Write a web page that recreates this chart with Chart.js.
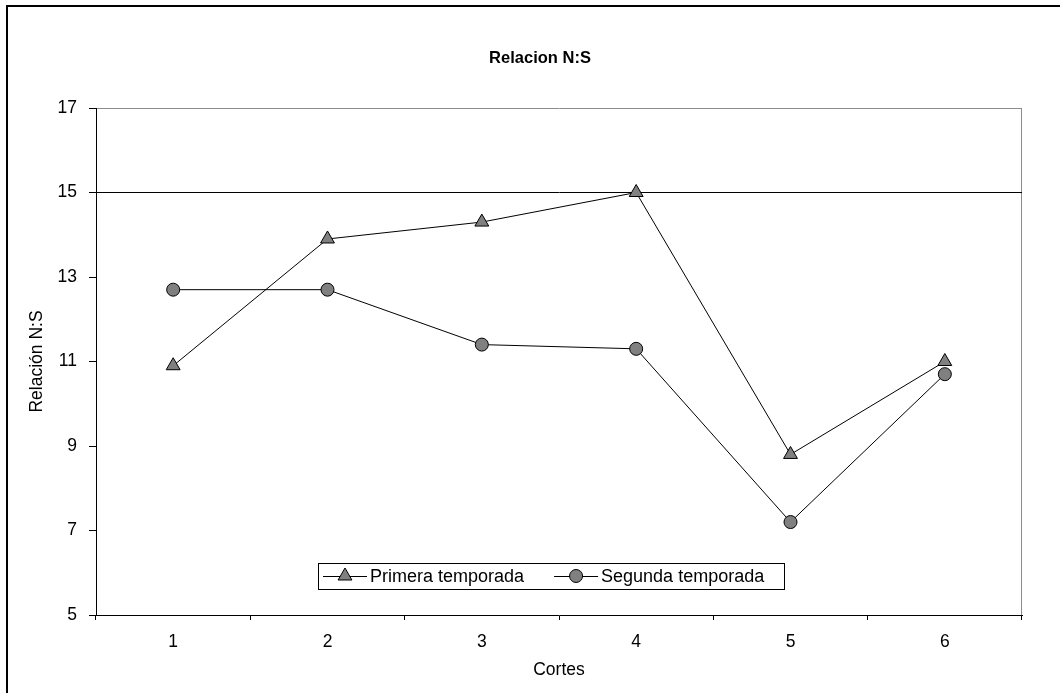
<!DOCTYPE html>
<html>
<head>
<meta charset="utf-8">
<title>Relacion N:S</title>
<script src="https://cdn.jsdelivr.net/npm/chart.js@4/dist/chart.umd.min.js"></script>
<style>
  html, body { margin: 0; padding: 0; background: #fff; overflow: hidden; }
  #wrap { position: relative; width: 1060px; height: 693px; overflow: hidden; }
  #frame { position: absolute; left: 6px; top: 5px; width: 1100px; height: 800px; border: 2px solid #000; }
  #c { position: absolute; left: 0; top: 0; }
</style>
</head>
<body>
<div id="wrap">
  <div id="frame"></div>
  <canvas id="c" width="1060" height="693"></canvas>
</div>
<script>
// Cortes (harvest cuts) on the x axis
const cortes = ['1', '2', '3', '4', '5', '6'];
// N:S ratio per cut, first and second season
const primeraTemporada = [10.9, 13.9, 14.3, 15.0, 8.8, 11.0];
const segundaTemporada = [12.7, 12.7, 11.4, 11.3, 7.2, 10.7];
// y axis range and reference level
const yMin = 5, yMax = 17, yStep = 2;
const referencia = 15;

const FONT = '"Liberation Sans", Arial, Helvetica, sans-serif';
const MARK_FILL = '#808080';

// Draws a point symbol the same way the chart draws its markers
function drawMarker(ctx, style, radius, x, y) {
  ctx.save();
  ctx.fillStyle = MARK_FILL;
  ctx.strokeStyle = '#000';
  ctx.lineWidth = 1;
  if (Chart.helpers && Chart.helpers.drawPoint) {
    Chart.helpers.drawPoint(ctx, { pointStyle: style, radius: radius, borderWidth: 1, rotation: 0 }, x, y);
  } else {
    ctx.beginPath();
    if (style === 'triangle') {
      for (let k = 0; k < 3; k++) {
        const a = k * 2 * Math.PI / 3;
        const px = x + Math.sin(a) * radius, py = y - Math.cos(a) * radius;
        k ? ctx.lineTo(px, py) : ctx.moveTo(px, py);
      }
      ctx.closePath();
    } else {
      ctx.arc(x, y, radius, 0, 2 * Math.PI);
    }
    ctx.fill();
    ctx.stroke();
  }
  ctx.restore();
}

// Boxed legend sitting inside the plot area, near the bottom
const boxLegend = {
  id: 'boxLegend',
  afterDraw(chart, args, opts) {
    const { ctx, chartArea } = chart;
    const left = chartArea.left + opts.dx;
    const top = chartArea.bottom - opts.dy;
    ctx.save();
    ctx.fillStyle = '#fff';
    ctx.fillRect(left, top, opts.width, opts.height);
    ctx.strokeStyle = '#000';
    ctx.lineWidth = 1;
    ctx.strokeRect(Math.round(left) + 0.5, Math.round(top) + 0.5, opts.width, opts.height);
    ctx.font = opts.font;
    ctx.textBaseline = 'middle';
    ctx.textAlign = 'left';
    const cy = top + opts.height / 2;
    let x = left + 5;
    chart.data.datasets.forEach(ds => {
      ctx.beginPath();
      ctx.strokeStyle = ds.borderColor;
      ctx.lineWidth = 1;
      ctx.moveTo(x, Math.round(cy) + 0.5);
      ctx.lineTo(x + 44, Math.round(cy) + 0.5);
      ctx.stroke();
      drawMarker(ctx, ds.pointStyle, ds.pointRadius, x + 22, cy);
      ctx.fillStyle = '#000';
      ctx.fillText(ds.label, x + 47, cy + 1);
      x += 47 + ctx.measureText(ds.label).width + 30;
    });
    ctx.restore();
  }
};

new Chart(document.getElementById('c'), {
  type: 'line',
  data: {
    labels: cortes,
    datasets: [
      {
        label: 'Primera temporada',
        data: primeraTemporada,
        borderColor: '#000',
        borderWidth: 1,
        backgroundColor: MARK_FILL,
        pointStyle: 'triangle',
        pointRadius: 8,
        pointHoverRadius: 8,
        pointBackgroundColor: MARK_FILL,
        pointBorderColor: '#000',
        pointBorderWidth: 1,
        tension: 0,
        fill: false
      },
      {
        label: 'Segunda temporada',
        data: segundaTemporada,
        borderColor: '#000',
        borderWidth: 1,
        backgroundColor: MARK_FILL,
        pointStyle: 'circle',
        pointRadius: 6.5,
        pointHoverRadius: 6.5,
        pointBackgroundColor: MARK_FILL,
        pointBorderColor: '#000',
        pointBorderWidth: 1,
        tension: 0,
        fill: false
      }
    ]
  },
  options: {
    responsive: false,
    animation: false,
    events: [],
    layout: { padding: { left: 58, right: 38, top: 0, bottom: 0 } },
    plugins: {
      legend: { display: false },
      tooltip: { enabled: false },
      title: {
        display: true,
        text: 'Relacion N:S',
        color: '#000',
        font: { family: FONT, size: 16.5, weight: 'bold' },
        padding: { top: 48.1, bottom: 40.1 }
      },
      boxLegend: {
        dx: 222, dy: 52, width: 466, height: 26,
        font: '18px ' + FONT
      }
    },
    scales: {
      x: {
        type: 'category',
        offset: true,
        afterFit: s => { s.height = 78; },
        border: { display: true, color: '#000', width: 1 },
        grid: {
          offset: true,
          drawOnChartArea: true,
          tickLength: 5,
          tickColor: '#000',
          // only the right edge of the plot frame is drawn on the area
          color: c => (c.type === 'tick' ? 'rgba(0,0,0,0)' : '#8c8c8c')
        },
        ticks: {
          color: '#000',
          padding: 12,
          font: { family: FONT, size: 17.5 },
          maxRotation: 0
        },
        title: {
          display: true,
          text: 'Cortes',
          color: '#000',
          font: { family: FONT, size: 17.5 },
          padding: { top: 0, bottom: 12.5 }
        }
      },
      y: {
        min: yMin,
        max: yMax,
        afterFit: s => { s.width = 38; },
        border: { display: true, color: '#000', width: 1 },
        grid: {
          tickLength: 7,
          tickColor: '#000',
          color: c => {
            if (c.tick && c.tick.value === referencia) return '#000';
            if (c.tick && c.tick.value === yMax) return '#8c8c8c';
            return 'rgba(0,0,0,0)';
          }
        },
        ticks: {
          stepSize: yStep,
          color: '#000',
          padding: 12,
          font: { family: FONT, size: 17.5 }
        },
        title: {
          display: true,
          text: 'Relación N:S',
          color: '#000',
          font: { family: FONT, size: 17.5 },
          padding: { top: -31.5, bottom: 0 }
        }
      }
    }
  },
  plugins: [boxLegend]
});
</script>
</body>
</html>
